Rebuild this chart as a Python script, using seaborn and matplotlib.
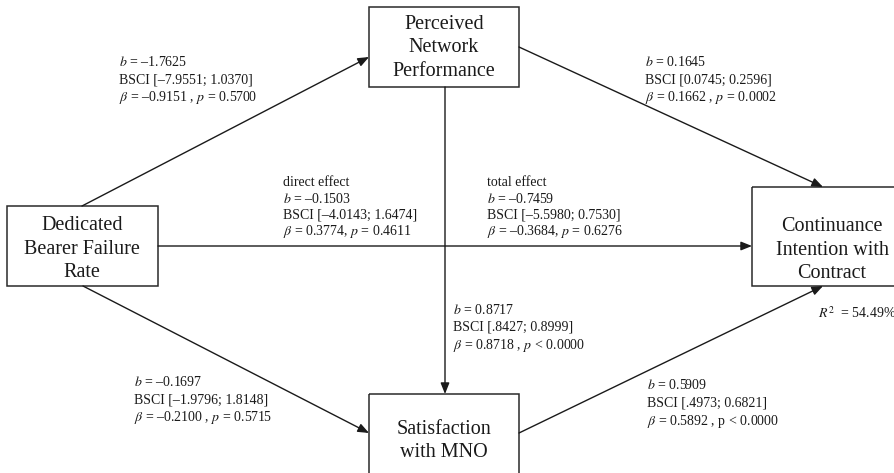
import matplotlib
matplotlib.use("Agg")
import matplotlib.pyplot as plt
import seaborn as sns
from matplotlib.patches import Rectangle

sns.set_theme(style="white")
plt.rcParams['font.family'] = ['Liberation Serif', 'DejaVu Serif']
plt.rcParams['mathtext.fontset'] = 'stix'

# ---- data ----
nodes = ["Dedicated\nBearer Failure\nRate", "Perceived\nNetwork\nPerformance",
         "Satisfaction\nwith MNO", "Continuance\nIntention with\nContract"]
path_names = ["DBFR->PNP", "PNP->CIC", "DBFR->CIC direct", "DBFR->CIC total",
              "PNP->SMNO", "DBFR->SMNO", "SMNO->CIC"]
b_vals = ["\u20131.7625", "0.1645", "\u20130.1503", "\u20130.7459", "0.8717", "\u20130.1697", "0.5909"]
ci_lo = ["\u20137.9551", "0.0745", "\u20134.0143", "\u20135.5980", ".8427", "\u20131.9796", ".4973"]
ci_hi = ["1.0370", "0.2596", "1.6474", "0.7530", "0.8999", "1.8148", "0.6821"]
beta_vals = ["\u20130.9151", "0.1662", "0.3774", "\u20130.3684", "0.8718", "\u20130.2100", "0.5892"]
p_vals = ["= 0.5700", "= 0.0002", "= 0.4611", "= 0.6276", "< 0.0000", "= 0.5715", "< 0.0000"]
r_squared = "54.49%"

fig = plt.figure(figsize=(8.94, 4.73), dpi=100)
ax = fig.add_axes([0, 0, 1, 1])
ax.set_xlim(0, 894)
ax.set_ylim(473, 0)
ax.axis("off")

EC = "#2a2a2a"
box_lw = 1.1
# boxes: (x0, y0, x1, y1)
boxes = [(7, 206, 158, 286), (369, 7, 519, 87), (369, 394, 519, 480), (752, 187, 900, 286)]
label_pos = [(82, 249), (444, 48), (444, 441), (832, 250)]
for (x0, y0, x1, y1), name, (lx, ly) in zip(boxes, nodes, label_pos):
    ax.add_patch(Rectangle((x0, y0), x1 - x0, y1 - y0, fill=False, ec=EC, lw=box_lw, zorder=3))
    ax.text(lx, ly, name, ha="center", va="center", fontsize=14.5, color="#1a1a1a",
            linespacing=1.34, zorder=4)

arrows = [((82, 206), (369, 57)),
          ((519, 47), (823, 187)),
          ((158, 246), (752, 246)),
          ((445, 87), (445, 394)),
          ((83, 286), (369, 433)),
          ((519, 433), (823, 286))]
for (sx, sy), (ex, ey) in arrows:
    ax.annotate("", xy=(ex, ey), xytext=(sx, sy),
                arrowprops=dict(arrowstyle="-|>,head_length=0.55,head_width=0.22",
                                color="#1a1a1a", lw=1.0, shrinkA=0, shrinkB=0))

def label(i, italic_p=True, comma_space=True, header=None):
    ptxt = r"$p$" if italic_p else "p"
    sep = " , " if comma_space else ", "
    lines = []
    if header:
        lines.append(header)
    lines.append(r"$b$ = " + b_vals[i])
    lines.append("BSCI [" + ci_lo[i] + "; " + ci_hi[i] + "]")
    lines.append(r"$\beta$ = " + beta_vals[i] + sep + ptxt + " " + p_vals[i])
    return lines

ann = [
    (0, 119, [62, 80, 97], {}),
    (1, 645, [62, 80, 97], {}),
    (2, 283, [182, 199, 215, 231], dict(comma_space=False, header="direct effect")),
    (3, 487, [182, 199, 215, 231], dict(comma_space=False, header="total effect")),
    (4, 453, [310, 327, 345], {}),
    (5, 134, [382, 400, 417], {}),
    (6, 647, [385, 403, 421], dict(italic_p=False)),
]
for i, x, ys, kw in ann:
    for t, y in zip(label(i, **kw), ys):
        ax.text(x, y, t, ha="left", va="center", fontsize=10, color="#1a1a1a")

ax.text(818, 313, r"$R^2$  = " + r_squared, ha="left", va="center", fontsize=10, color="#1a1a1a")

fig.savefig("out.png", dpi=100, facecolor="white")
